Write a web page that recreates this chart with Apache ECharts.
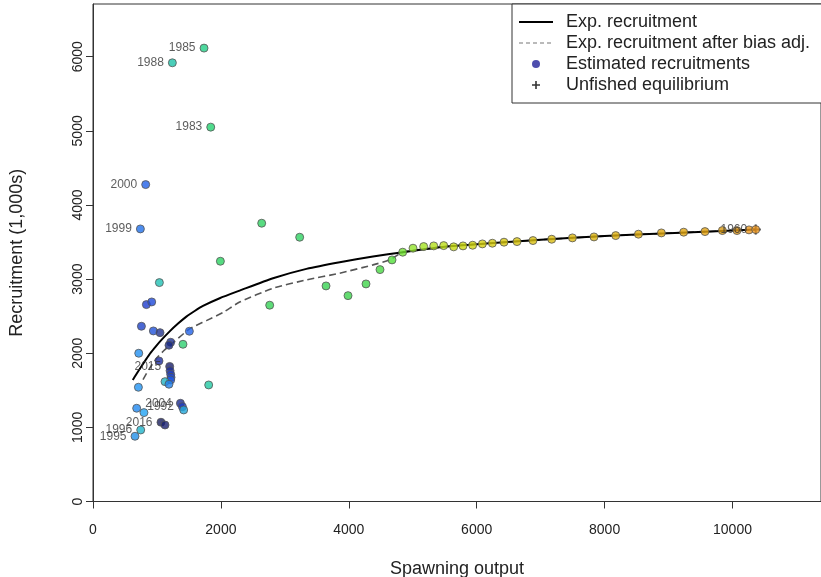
<!DOCTYPE html>
<html><head><meta charset="utf-8">
<script src="https://cdn.jsdelivr.net/npm/echarts@6/dist/echarts.min.js"></script>
<style>html,body{margin:0;padding:0;background:#fff}#c{width:821px;height:577px}</style>
</head><body><div id="c"></div>
<script>
// ---- tick labels ----
const xTicks = [0, 2000, 4000, 6000, 8000, 10000];
const yTicks = [0, 1000, 2000, 3000, 4000, 5000, 6000];

// ---- estimated recruitments (spawning output, recruitment in 1,000s, year label) ----
const spawning = [1736, 1241, 1841, 824, 741, 1992, 1038, 835, 918, 757, 944, 1048, 1507, 1215, 1188, 1407, 715, 1032,
  1199, 1205, 1215, 1220, 1215, 1126, 1188, 710, 1809, 683, 797, 1367, 1398, 1418, 1063, 1126, 746, 657,
  2638, 3232, 2763, 3644, 3988, 4269, 4488, 4676,
  4843, 5004, 5171, 5328, 5484, 5640, 5786, 5937, 6089, 6245, 6427, 6630, 6880, 7173, 7497, 7834, 8174, 8529, 8888, 9237, 9570, 9842, 10070, 10258, 10363];
const recruitment = [6116, 5918, 5050, 4275, 3677, 3241, 2953, 2656, 2692, 2364, 2301, 2278, 2297, 2148, 2108, 2121, 2000, 1896,
  1822, 1765, 1715, 1675, 1640, 1617, 1582, 1541, 1572, 1258, 1199, 1325, 1279, 1235, 1069, 1032, 965, 880,
  3754, 3565, 2648, 2908, 2777, 2935, 3128, 3259,
  3363, 3417, 3439, 3448, 3452, 3435, 3448, 3457, 3475, 3484, 3498, 3506, 3520, 3538, 3556, 3569, 3587, 3606, 3623, 3633, 3641, 3655, 3655, 3664, 3668];
const yearLabels = ['1985', '1988', '1983', '2000', '1999', '', '', '', '', '', '', '', '', '', '', '', '', '',
  '2015', '', '', '', '', '', '', '', '', '', '', '2004', '1992', '', '2016', '', '1996', '1995',
  '', '', '', '', '', '', '', '',
  '', '', '', '', '', '', '', '', '', '', '', '', '', '', '', '', '', '', '', '', '', '', '', '', '1960'];

// ---- expected recruitment curves ----
const expCurveS = [622, 680, 750, 820, 900, 980, 1060, 1199, 1330, 1460, 1590, 1720, 1981, 2294, 2815, 3337, 3858, 4378, 4848, 5500, 6200, 7000, 8000, 9000, 10363];
const expCurveR = [1640, 1720, 1815, 1905, 2005, 2090, 2170, 2295, 2400, 2494, 2570, 2638, 2742, 2845, 3012, 3138, 3228, 3304, 3363, 3437, 3482, 3531, 3580, 3620, 3668];
const biasCurveS = [782, 880, 991, 1120, 1251, 1512, 1773, 2033, 2294, 2815, 3337, 3858, 4378, 4639, 4848, 5500, 6200, 7000, 8000, 9000, 10363];
const biasCurveR = [1645, 1790, 1930, 2045, 2140, 2330, 2440, 2550, 2690, 2877, 2989, 3080, 3192, 3259, 3363, 3437, 3482, 3531, 3580, 3620, 3668];

// ---- unfished equilibrium ----
const unfishedS = [10363];
const unfishedR = [3668];

// ---- styles (per-point fill colours) ----
const pointColors = ['#22CE86', '#1EC2A8', '#24D270', '#2060E8', '#2070EA', '#2CD262', '#20C0B4', '#1E3CCE', '#1E48D8', '#1E42C8', '#2052DA', '#22338E', '#2062E8', '#1C3092', '#1A2A82', '#30D070', '#2290F0', '#1C2CA0',
  '#1A1F6E', '#1E2E9A', '#1E3CC0', '#1E48D0', '#1E58E0', '#20B2C2', '#2080E8', '#2294F2', '#22C8A2', '#2088F0', '#22A2F2', '#1C2C92', '#1E3CC0', '#20A6D8', '#1A1F5E', '#1A2070', '#20B4CA', '#2090E8',
  '#30D262', '#30D262', '#36D256', '#38D252', '#3CD24C', '#40D44A', '#48D842', '#52DE3A',
  '#72E232', '#92E22A', '#A4E222', '#B4E01E', '#BEDE18', '#C6DA12', '#CCD812', '#D0D410', '#D4D010', '#D6CC10', '#D8C810', '#D8C410', '#DAC010', '#DABC10', '#DCB810', '#DCB410', '#DEB010', '#E0AC10', '#E0A810', '#E2A610', '#E4A210', '#D89A14', '#E49A18', '#EC9A20', '#F09A22'];

const FONT = 'Liberation Sans, Arial, sans-serif';
const PLUS = 'path://M4,0H6V4H10V6H6V10H4V6H0V4H4Z';

const pts = spawning.map((s, i) => {
  const d = { value: [s, recruitment[i]], itemStyle: { color: pointColors[i] } };
  if (yearLabels[i]) d.label = { show: true, formatter: yearLabels[i] };
  return d;
});

const chart = echarts.init(document.getElementById('c'), null, { renderer: 'canvas' });
chart.setOption({
  animation: false,
  backgroundColor: '#fff',
  textStyle: { fontFamily: FONT },
  grid: { left: 93, right: 0, top: 4, bottom: 75.5, show: true, borderColor: '#333', borderWidth: 1, backgroundColor: 'transparent', outerBoundsMode: 'none', containLabel: false },
  xAxis: {
    type: 'value', min: 0, max: 11384, interval: 2000,
    name: 'Spawning output', nameLocation: 'middle', nameGap: 59,
    nameTextStyle: { fontSize: 18, color: '#222', fontFamily: FONT },
    axisLine: { show: true, lineStyle: { color: '#333', width: 1 } },
    axisTick: { show: true, inside: false, length: 7, lineStyle: { color: '#333' }, customValues: xTicks },
    axisLabel: { fontSize: 14, color: '#222', margin: 22, fontFamily: FONT, customValues: xTicks, formatter: v => String(v) },
    splitLine: { show: false }
  },
  yAxis: {
    type: 'value', min: 0, max: 6711, interval: 1000,
    name: 'Recruitment (1,000s)', nameLocation: 'middle', nameGap: 67,
    nameTextStyle: { fontSize: 18, color: '#222', fontFamily: FONT },
    axisLine: { show: true, lineStyle: { color: '#333', width: 1 } },
    axisTick: { show: true, inside: false, length: 7, lineStyle: { color: '#333' }, customValues: yTicks },
    axisLabel: { fontSize: 14, color: '#222', margin: 8, rotate: 90, fontFamily: FONT, customValues: yTicks, formatter: v => String(v) },
    splitLine: { show: false }
  },
  legend: {
    orient: 'vertical', left: 512, top: 4,
    itemWidth: 34, itemHeight: 8, itemGap: 3,
    padding: [9, 40, 9, 6],
    borderColor: '#333', borderWidth: 1, backgroundColor: '#fff',
    textStyle: { fontSize: 18, color: '#222', fontFamily: FONT, padding: [0, 0, 0, 8] },
    selectedMode: false,
    data: [
      { name: 'Exp. recruitment', itemStyle: { opacity: 0 } },
      { name: 'Exp. recruitment after bias adj.', itemStyle: { opacity: 0 }, lineStyle: { width: 1.2, color: '#777', type: [4, 3] } },
      { name: 'Estimated recruitments', icon: 'circle', itemStyle: { color: '#22229a', borderWidth: 0 } },
      { name: 'Unfished equilibrium', icon: PLUS, itemStyle: { color: '#000', borderWidth: 0 } }
    ]
  },
  series: [
    {
      name: 'Unfished equilibrium', type: 'scatter', z: 1,
      symbol: PLUS, symbolSize: 10,
      itemStyle: { color: '#000' },
      data: unfishedS.map((s, i) => [s, unfishedR[i]])
    },
    {
      name: 'Exp. recruitment after bias adj.', type: 'line', z: 2,
      symbol: 'none', smooth: 0.2,
      lineStyle: { color: '#555', width: 1.6, type: [7, 4] },
      itemStyle: { color: '#555' },
      data: biasCurveS.map((s, i) => [s, biasCurveR[i]])
    },
    {
      name: 'Exp. recruitment', type: 'line', z: 3,
      symbol: 'none', smooth: 0.2,
      lineStyle: { color: '#000', width: 2 },
      itemStyle: { color: '#000' },
      data: expCurveS.map((s, i) => [s, expCurveR[i]])
    },
    {
      name: 'Estimated recruitments', type: 'scatter', z: 4,
      symbol: 'circle', symbolSize: 8,
      itemStyle: { color: '#22229a', borderColor: '#555', borderWidth: 1 },
      label: { show: false, position: 'left', distance: 4, fontSize: 12, color: '#333', fontFamily: FONT },
      labelLayout: { hideOverlap: false },
      data: pts
    }
  ]
});
</script>
</body></html>
